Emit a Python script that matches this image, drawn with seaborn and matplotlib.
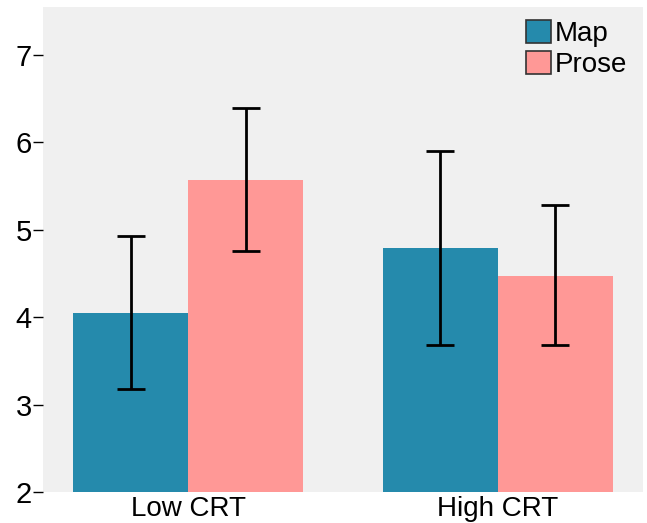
import pandas as pd
import matplotlib.pyplot as plt
import seaborn as sns

# ── Data ──────────────────────────────────────────────
groups = ["Low CRT", "Low CRT", "High CRT", "High CRT"]
formats = ["Map", "Prose", "Map", "Prose"]
means = [4.05, 5.57, 4.79, 4.47]
ci_low = [3.18, 4.76, 3.68, 3.68]
ci_high = [4.93, 6.39, 5.90, 5.28]

df = pd.DataFrame({"CRT": groups, "Format": formats, "Mean": means,
                   "Low": ci_low, "High": ci_high})

# ── Setup ──────────────────────────────────────────────
sns.set_style("white")
plt.rcParams["font.family"] = ["Liberation Sans", "DejaVu Sans"]
plt.rcParams["text.color"] = "black"
plt.rcParams["xtick.color"] = "black"
plt.rcParams["ytick.color"] = "black"
palette = {"Map": "#258aac", "Prose": "#ff9896"}

fig = plt.figure(figsize=(6.47, 5.23), dpi=100)
ax = fig.add_axes([43 / 647, 31 / 523, 600 / 647, 485 / 523])
ax.set_facecolor("#f0f0f0")

sns.barplot(data=df, x="CRT", y="Mean", hue="Format", palette=palette,
            width=0.742, errorbar=None, linewidth=0, saturation=1, ax=ax)

# error bars centred on each bar
bars = [p for p in ax.patches if p.get_height() > 0][:len(df)]
bars = sorted(bars, key=lambda p: p.get_x())
order = df.sort_values(by="CRT", key=lambda s: s.map({"Low CRT": 0, "High CRT": 1}),
                       kind="stable")
for bar, (_, row) in zip(bars, order.iterrows()):
    xc = bar.get_x() + bar.get_width() / 2
    ax.errorbar(xc, row["Mean"],
                yerr=[[row["Mean"] - row["Low"]], [row["High"] - row["Mean"]]],
                fmt="none", ecolor="black", elinewidth=2, capsize=10, capthick=2)

ax.set_xlim(-0.468, 1.468)
ax.set_ylim(2, 7.55)
ax.set_yticks([2, 3, 4, 5, 6, 7])
ax.set_xlabel("")
ax.set_ylabel("")
ax.tick_params(axis="y", left=True, length=7, width=1, labelsize=21, pad=1)
ax.tick_params(axis="x", bottom=False, length=0, labelsize=20, pad=3)
for s in ax.spines.values():
    s.set_visible(False)

leg = ax.legend(loc="upper right", frameon=False, fontsize=20,
                handlelength=0.9, handleheight=0.9, handletextpad=0.12,
                labelspacing=0.15, borderpad=0.2, borderaxespad=0.0,
                bbox_to_anchor=(0.982, 0.985))
for h in leg.legend_handles:
    h.set_edgecolor("#333333")
    h.set_linewidth(1.2)

plt.savefig("out.png", dpi=100)
plt.close()
